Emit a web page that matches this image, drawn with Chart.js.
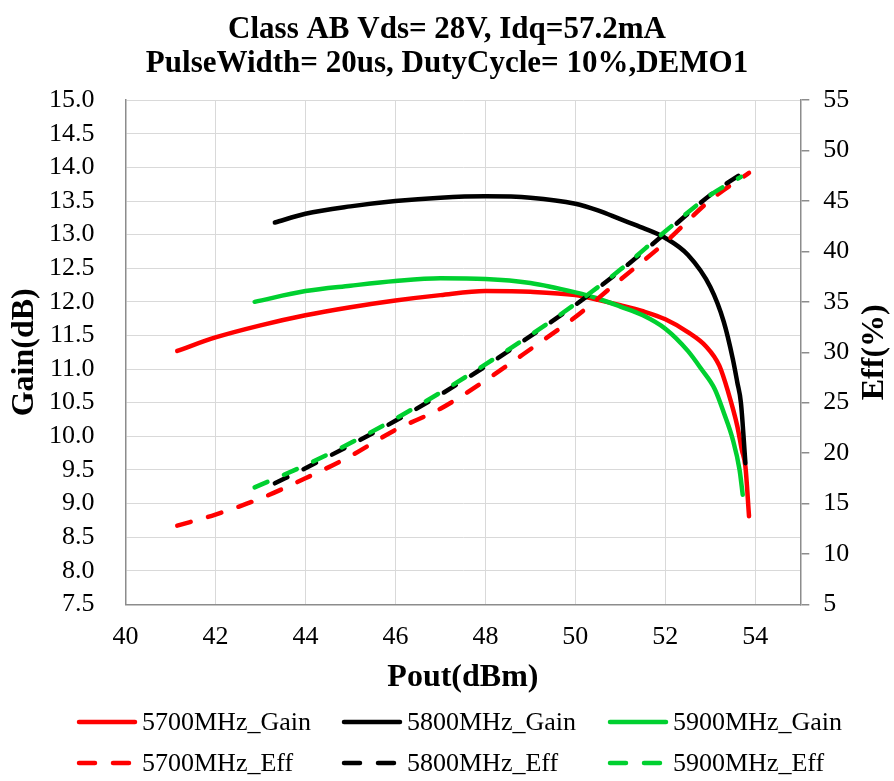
<!DOCTYPE html>
<html>
<head>
<meta charset="utf-8">
<script src="https://cdn.jsdelivr.net/npm/chart.js@4/dist/chart.umd.min.js"></script>
<style>
  html, body { margin: 0; padding: 0; background: #ffffff; }
  #wrap { width: 894px; height: 781px; }
</style>
</head>
<body>
<div id="wrap"><canvas id="c" width="894" height="781"></canvas></div>
<script>
// ---------- text ----------
const titleLines = ['Class AB Vds= 28V, Idq=57.2mA', 'PulseWidth= 20us, DutyCycle= 10%,DEMO1'];
const xTitle = 'Pout(dBm)';
const yLeftTitle = 'Gain(dB)';
const yRightTitle = 'Eff(%)';
const seriesNames = ['5700MHz_Gain', '5800MHz_Gain', '5900MHz_Gain', '5700MHz_Eff', '5800MHz_Eff', '5900MHz_Eff'];

// ---------- tick labels ----------
const xTicks = [40, 42, 44, 46, 48, 50, 52, 54];
const gainTicks = [7.5, 8.0, 8.5, 9.0, 9.5, 10.0, 10.5, 11.0, 11.5, 12.0, 12.5, 13.0, 13.5, 14.0, 14.5, 15.0];
const effTicks = [5, 10, 15, 20, 25, 30, 35, 40, 45, 50, 55];

// ---------- series values ----------
const pout5700Gain = [41.15, 42, 43, 44, 45, 46, 47, 48, 49, 50, 50.5, 51, 51.5, 52, 52.5, 52.9, 53.2, 53.4, 53.6, 53.7, 53.78, 53.86];
const gain5700     = [11.27, 11.47, 11.65, 11.80, 11.92, 12.02, 12.10, 12.16, 12.15, 12.10, 12.03, 11.95, 11.86, 11.74, 11.55, 11.34, 11.05, 10.65, 10.15, 9.80, 9.55, 8.81];

const pout5800Gain = [43.32, 44, 45, 46, 47, 48, 49, 50, 50.5, 51, 51.5, 52, 52.5, 53, 53.3, 53.5, 53.6, 53.68, 53.78];
const gain5800     = [13.18, 13.31, 13.42, 13.50, 13.55, 13.57, 13.55, 13.46, 13.36, 13.23, 13.10, 12.95, 12.70, 12.22, 11.70, 11.15, 10.80, 10.50, 9.60];

const pout5900Gain = [42.87, 44, 45, 46, 47, 48, 49, 50, 50.5, 51, 51.5, 52, 52.5, 52.8, 53.1, 53.3, 53.5, 53.65, 53.72];
const gain5900     = [12.00, 12.16, 12.24, 12.31, 12.35, 12.34, 12.28, 12.14, 12.05, 11.93, 11.80, 11.60, 11.27, 11.00, 10.70, 10.35, 9.95, 9.50, 9.13];

const pout5700Eff = [41.15, 42, 43, 44, 45, 46, 47, 48, 49, 50, 51, 52, 53, 53.86];
const eff5700     = [12.8, 13.9, 15.5, 17.5, 19.7, 22.3, 24.4, 27.2, 30.3, 33.5, 37.2, 40.9, 45.1, 47.8];

const pout5800Eff = [43.32, 44, 45, 46, 47, 48, 49, 50, 51, 52, 53, 53.79];
const eff5800     = [17.0, 18.5, 20.8, 23.2, 25.8, 28.6, 31.6, 34.7, 38.1, 41.8, 45.6, 48.0];

const pout5900Eff = [42.87, 44, 45, 46, 47, 48, 49, 50, 51, 52, 53, 53.68];
const eff5900     = [16.6, 18.8, 21.0, 23.4, 26.0, 28.8, 31.7, 34.8, 38.2, 42.0, 45.6, 47.4];

// ---------- styles ----------
const RED = '#ff0000', BLACK = '#000000', GREEN = '#00d030';
const FAMILY = '"Liberation Serif", "Times New Roman", serif';
Chart.defaults.font.family = FAMILY;
Chart.defaults.color = '#000000';

function series(label, xs, ys, color, axis, dashed, order) {
  return {
    label: label,
    data: xs.map((x, i) => ({ x: x, y: ys[i] })),
    borderColor: color,
    backgroundColor: color,
    borderWidth: 4.5,
    borderDash: dashed ? [14, 18] : [],
    borderCapStyle: 'round',
    borderJoinStyle: 'round',
    pointRadius: 0,
    pointHoverRadius: 0,
    cubicInterpolationMode: 'monotone',
    fill: false,
    yAxisID: axis,
    order: order
  };
}

const datasets = [
  series(seriesNames[0], pout5700Gain, gain5700, RED,   'y',  false, 5),
  series(seriesNames[1], pout5800Gain, gain5800, BLACK, 'y',  false, 4),
  series(seriesNames[2], pout5900Gain, gain5900, GREEN, 'y',  false, 3),
  series(seriesNames[3], pout5700Eff,  eff5700,  RED,   'y2', true,  2),
  series(seriesNames[4], pout5800Eff,  eff5800,  BLACK, 'y2', true,  1),
  series(seriesNames[5], pout5900Eff,  eff5900,  GREEN, 'y2', true,  0)
];

// legend laid out as a 3-column grid, like the original
const LEG_COL_X = [77, 342, 608];
const LEG_ROW_FROM_BOTTOM = [59, 18];
const LEG_LINE_LEN = 60;
const LEG_TEXT_GAP = 5;

// axis box sizes (px)
const LEFT_AXIS_W = 125.5;
const RIGHT_AXIS_W = 93.7;
const BOTTOM_AXIS_H = 92.7;

const layoutFix = {
  id: 'layoutFix',
  afterInit(chart) {
    const lg = chart.legend;
    if (!lg) return;
    lg.draw = function () {
      if (!this.legendItems) return;
      const ctx = this.ctx;
      const items = this.legendItems.slice().sort((a, b) => a.datasetIndex - b.datasetIndex);
      ctx.save();
      ctx.font = '26px ' + FAMILY;
      ctx.textBaseline = 'middle';
      ctx.textAlign = 'left';
      items.forEach((it, i) => {
        const ds = chart.data.datasets[it.datasetIndex];
        const col = i % 3, row = Math.floor(i / 3);
        const x = LEG_COL_X[col];
        const y = this.bottom - LEG_ROW_FROM_BOTTOM[row];
        ctx.save();
        ctx.strokeStyle = ds.borderColor;
        ctx.lineWidth = ds.borderWidth;
        ctx.lineCap = 'round';
        ctx.setLineDash(ds.borderDash && ds.borderDash.length ? [16, 18] : []);
        ctx.beginPath();
        ctx.moveTo(x + 2, y);
        ctx.lineTo(x + LEG_LINE_LEN - 2, y);
        ctx.stroke();
        ctx.restore();
        ctx.fillStyle = '#000000';
        ctx.fillText(it.text, x + LEG_LINE_LEN + LEG_TEXT_GAP, y + 1);
      });
      ctx.restore();
    };
  },
  beforeDraw(chart) {
    // right axis title reads bottom-to-top, like the left one
    const s = chart.scales.y2;
    if (s && !s.__flipped) {
      s.__flipped = true;
      const orig = s.drawTitle;
      s.drawTitle = function () {
        const t = this.options.title;
        const size = (t.font && t.font.size) || 32;
        const lh = size * 1.2;
        const padTop = (t.padding && t.padding.top) || 0;
        const cx = this.right - padTop - lh / 2;
        const cy = (this.top + this.bottom) / 2;
        const ctx = this.ctx;
        ctx.save();
        ctx.translate(cx, cy);
        ctx.rotate(Math.PI);
        ctx.translate(-cx, -cy);
        orig.call(this);
        ctx.restore();
      };
    }
  }
};

const GRID = '#d9d9d9';
const AXIS = '#8c8c8c';

new Chart(document.getElementById('c'), {
  type: 'line',
  data: { datasets: datasets },
  plugins: [layoutFix],
  options: {
    responsive: false,
    animation: false,
    devicePixelRatio: 1,
    layout: { padding: 0 },
    plugins: {
      title: {
        display: true,
        text: titleLines,
        color: '#000000',
        font: { family: FAMILY, size: 31, weight: 'bold', lineHeight: 1.1 },
        padding: { top: 13, bottom: 19 }
      },
      legend: {
        display: true,
        position: 'bottom',
        labels: {
          font: { family: FAMILY, size: 26 },
          padding: 11,
          usePointStyle: true,
          pointStyle: 'line',
          pointStyleWidth: 60,
          sort: (a, b) => a.datasetIndex - b.datasetIndex
        }
      },
      tooltip: { enabled: false }
    },
    scales: {
      x: {
        type: 'linear',
        min: 40,
        max: 55,
        afterBuildTicks: (s) => { s.ticks = xTicks.map(v => ({ value: v })); },
        afterFit: (s) => { s.height = BOTTOM_AXIS_H; },
        ticks: { font: { size: 26 }, color: '#000000', padding: 17, maxRotation: 0, autoSkip: false },
        grid: { color: GRID, lineWidth: 1, drawTicks: false },
        border: { color: AXIS, width: 1.5 },
        title: {
          display: true, text: xTitle, color: '#000000',
          font: { size: 32, weight: 'bold' },
          padding: { top: 7, bottom: 0 }
        }
      },
      y: {
        type: 'linear',
        position: 'left',
        min: 7.5,
        max: 15,
        afterBuildTicks: (s) => { s.ticks = gainTicks.map(v => ({ value: v })); },
        afterFit: (s) => { s.width = LEFT_AXIS_W; },
        ticks: { font: { size: 26 }, color: '#000000', padding: 31, autoSkip: false, callback: (v) => Number(v).toFixed(1) },
        grid: { color: GRID, lineWidth: 1, drawTicks: false },
        border: { color: AXIS, width: 1.5 },
        title: {
          display: true, text: yLeftTitle, color: '#000000',
          font: { size: 32, weight: 'bold' },
          padding: { top: 6, bottom: 4 }
        }
      },
      y2: {
        type: 'linear',
        position: 'right',
        min: 5,
        max: 55,
        afterBuildTicks: (s) => { s.ticks = effTicks.map(v => ({ value: v })); },
        afterFit: (s) => { s.width = RIGHT_AXIS_W; },
        ticks: { font: { size: 26 }, color: '#000000', padding: 14, autoSkip: false },
        grid: { drawOnChartArea: false, drawTicks: true, tickLength: 9, color: AXIS, lineWidth: 1.5 },
        border: { color: AXIS, width: 1.5 },
        title: {
          display: true, text: yRightTitle, color: '#000000',
          font: { size: 32, weight: 'bold' },
          padding: { top: 0, bottom: 6 }
        }
      }
    }
  }
});
</script>
</body>
</html>
